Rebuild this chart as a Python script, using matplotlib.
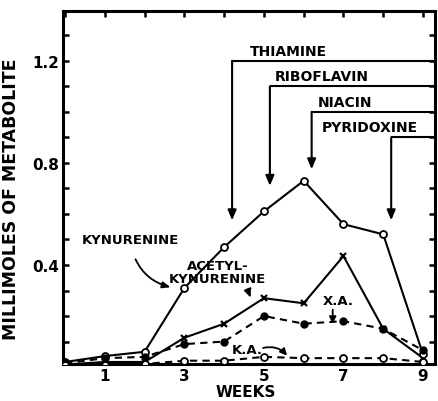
import matplotlib
matplotlib.use("Agg")
import matplotlib.pyplot as plt

weeks = [0, 1, 2, 3, 4, 5, 6, 7, 8, 9]
kynurenine = [0.02, 0.043, 0.06, 0.31, 0.47, 0.61, 0.73, 0.56, 0.52, 0.05]
acetyl_kynurenine = [0.01, 0.02, 0.02, 0.115, 0.17, 0.27, 0.25, 0.435, 0.15, 0.035]
xanthurenic_acid = [0.015, 0.035, 0.04, 0.09, 0.10, 0.20, 0.17, 0.18, 0.15, 0.066]
kynurenic_acid = [0.01, 0.01, 0.012, 0.025, 0.025, 0.04, 0.035, 0.035, 0.035, 0.02]

x_ticklabels = ["1", "3", "5", "7", "9"]
y_ticklabels = ["0.4", "0.8", "1.2"]

nutrients = ["THIAMINE", "RIBOFLAVIN", "NIACIN", "PYRIDOXINE"]
nutrient_week = [4.2, 5.15, 6.2, 8.2]
nutrient_tip = [0.575, 0.71, 0.775, 0.575]
nutrient_level = [1.2, 1.1, 1.0, 0.9]
nutrient_text_x = [4.65, 5.28, 6.36, 6.46]

plt.rcParams['font.family'] = ['DejaVu Sans']
plt.rcParams['font.weight'] = 'bold'

fig = plt.figure(figsize=(4.38, 4.02), dpi=100)
ax = fig.add_axes([0.144, 0.092, 0.849, 0.878])

XMAX = 9.3
ax.set_xlim(-0.05, XMAX)
ax.set_ylim(0.012, 1.395)

lw = 1.5
ax.plot(weeks, kynurenine, '-', color='black', lw=lw, marker='o', ms=5,
        mfc='white', mec='black', mew=1.3, zorder=4)
ax.plot(weeks, acetyl_kynurenine, '-', color='black', lw=lw, marker='x', ms=5,
        mew=1.6, zorder=3)
ax.plot(weeks, xanthurenic_acid, '--', color='black', lw=lw, dashes=(3.5, 2.5),
        marker='o', ms=5, mfc='black', mec='black', zorder=4)
ax.plot(weeks, kynurenic_acid, '--', color='black', lw=lw, dashes=(3.5, 2.5),
        marker='o', ms=5, mfc='white', mec='black', mew=1.3, zorder=4)

# nutrient supplementation arrows
for name, wk, tip, lev, tx in zip(nutrients, nutrient_week, nutrient_tip,
                                  nutrient_level, nutrient_text_x):
    ax.plot([wk, XMAX], [lev, lev], color='black', lw=lw, clip_on=False,
            solid_capstyle='butt')
    ax.annotate('', xy=(wk, tip), xytext=(wk, lev),
                arrowprops=dict(arrowstyle='-|>,head_length=0.6,head_width=0.25',
                                color='black', lw=lw, shrinkA=0, shrinkB=0))
    ax.text(tx, lev + 0.012, name, ha='left', va='bottom', fontsize=10,
            fontweight='bold')

fs = 9.5
ax.annotate('KYNURENINE', xy=(2.72, 0.31), xytext=(1.64, 0.50),
            ha='center', va='center', fontsize=fs, fontweight='bold',
            arrowprops=dict(arrowstyle='-|>,head_length=0.5,head_width=0.2',
                            color='black', lw=1.3, shrinkA=8, shrinkB=2,
                            connectionstyle='arc3,rad=0.35'))
ax.annotate('ACETYL-\nKYNURENINE', xy=(4.70, 0.262), xytext=(3.84, 0.372),
            ha='center', va='center', fontsize=fs, fontweight='bold',
            linespacing=1.05,
            arrowprops=dict(arrowstyle='-|>,head_length=0.5,head_width=0.2',
                            color='black', lw=1.3, shrinkA=12, shrinkB=2,
                            connectionstyle='arc3,rad=0.3',
                            relpos=(0.85, 0.0)))
ax.text(6.86, 0.26, 'X.A.', ha='center', va='center', fontsize=fs,
        fontweight='bold')
ax.annotate('', xy=(6.73, 0.17), xytext=(6.73, 0.225),
            arrowprops=dict(arrowstyle='-|>,head_length=0.4,head_width=0.2',
                            color='black', lw=1.3, shrinkA=0, shrinkB=0))
ax.text(4.57, 0.068, 'K.A.', ha='center', va='center', fontsize=fs,
        fontweight='bold')
ax.annotate('', xy=(5.58, 0.045), xytext=(4.98, 0.075),
            arrowprops=dict(arrowstyle='-|>,head_length=0.4,head_width=0.2',
                            color='black', lw=1.3, shrinkA=0, shrinkB=0,
                            connectionstyle='arc3,rad=-0.3'))

# axes styling
for s in ax.spines.values():
    s.set_linewidth(2.2)
ax.set_xticks([1, 3, 5, 7, 9])
ax.set_xticklabels(x_ticklabels, fontsize=11, fontweight='bold')
ax.set_xticks([0, 2, 4, 6, 8], minor=True)
ax.set_yticks([0.4, 0.8, 1.2])
ax.set_yticklabels(y_ticklabels, fontsize=11, fontweight='bold')
ax.set_yticks([0.1, 0.2, 0.3, 0.5, 0.6, 0.7, 0.9, 1.0, 1.1, 1.3], minor=True)
ax.tick_params(which='both', direction='in', top=True, right=True,
               length=4, width=1.8, pad=3)
ax.tick_params(axis='x', which='both', bottom=False)

ax.set_xlabel('WEEKS', fontsize=11, fontweight='bold')
ax.xaxis.set_label_coords(0.49, -0.058)
ax.set_ylabel('MILLIMOLES OF METABOLITE', fontsize=12.5, fontweight='bold')
ax.yaxis.set_label_coords(-0.115, 0.47)

fig.savefig('out.png', dpi=100)
